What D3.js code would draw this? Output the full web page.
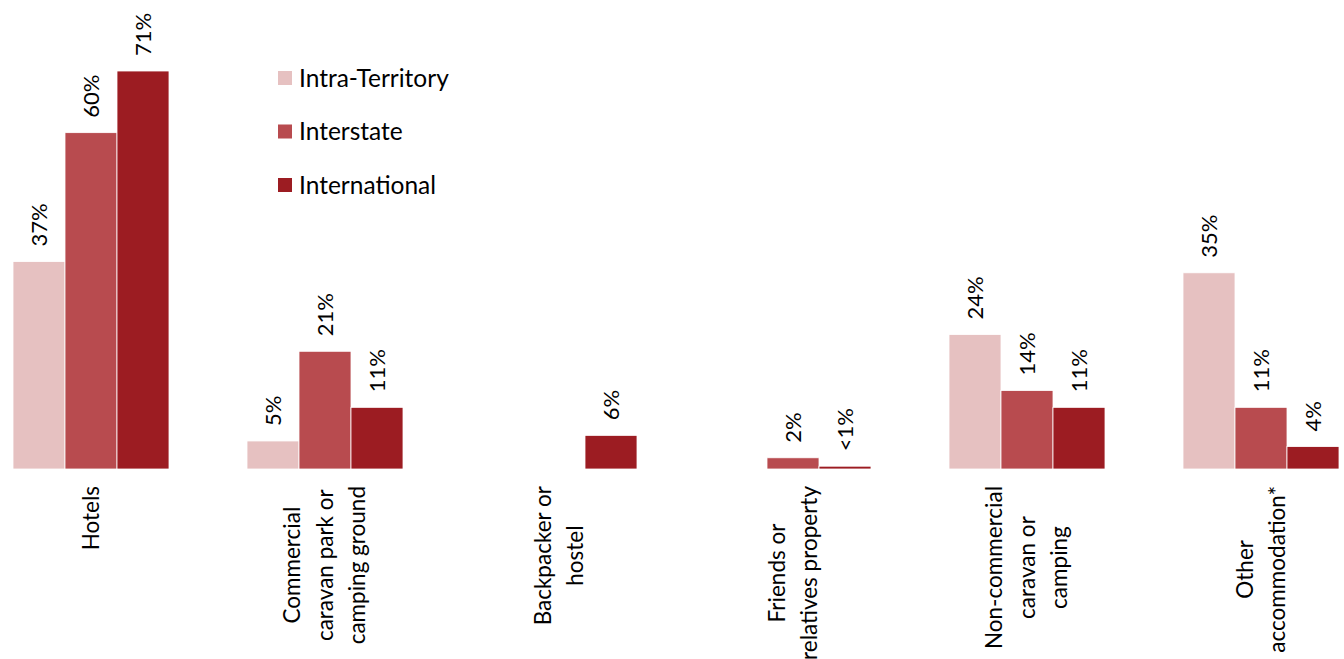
<!DOCTYPE html>
<html>
<head>
<meta charset="utf-8">
<script src="https://cdn.jsdelivr.net/npm/d3@7"></script>
<style>
  body { margin: 0; background: #fff; }
  text { font-family: Lato, "Liberation Sans", sans-serif; fill: #000; }
</style>
</head>
<body>
<svg id="chart" width="1344" height="659"></svg>
<script>
const svg = d3.select("#chart");
const width = +svg.attr("width");
const height = +svg.attr("height");

// data
const categories = ["Hotels", "Commercial", "Backpacker", "Friends", "NonCommercial", "Other"];
const categoryLines = [
    ["Hotels"],
    ["Commercial", "caravan park or", "camping ground"],
    ["Backpacker or", "hostel"],
    ["Friends or", "relatives property"],
    ["Non-commercial", "caravan or", "camping"],
    ["Other", "accommodation*"]
];
const series = ["Intra-Territory", "Interstate", "International"];
const intraTerritory = [37, 5, null, null, 24, 35];
const interstate = [60, 21, null, 2, 14, 11];
const international = [71, 11, 6, 0.5, 11, 4];
const seriesValues = [intraTerritory, interstate, international];
const colors = ["#E6C1C1", "#B84B4F", "#9C1C22"];

const fontSize = 22;
const baseline = 469;

const rows = categories.map((c, i) => ({
    key: c,
    lines: categoryLines[i],
    values: series.map((s, j) => ({series: s, idx: j, value: seriesValues[j][i]}))
}));

const x0 = d3.scaleBand()
    .domain(categories)
    .range([-26, 1378])
    .paddingInner(1 / 3)
    .paddingOuter(1 / 6);

const x1 = d3.scaleBand()
    .domain(series)
    .range([0, x0.bandwidth()]);

const y = d3.scaleLinear()
    .domain([0, 80])
    .range([baseline, baseline - 80 * 398 / 71]);

const color = d3.scaleOrdinal().domain(series).range(colors);

const groups = svg.selectAll("g.group")
    .data(rows)
    .enter()
    .append("g")
    .attr("class", "group")
    .attr("transform", d => "translate(" + x0(d.key) + ",0)");

// bars
groups.selectAll("rect")
    .data(d => d.values.filter(v => v.value != null))
    .enter()
    .append("rect")
    .attr("x", d => x1(d.series))
    .attr("y", d => y(d.value))
    .attr("width", x1.bandwidth())
    .attr("height", d => baseline - y(d.value))
    .attr("fill", d => color(d.series))
    .attr("stroke", "#fff")
    .attr("stroke-width", 0.8);

// value labels
groups.selectAll("text.value")
    .data(d => d.values.filter(v => v.value != null))
    .enter()
    .append("text")
    .attr("class", "value")
    .attr("transform", d => "translate(" + (x1(d.series) + x1.bandwidth() / 2) + "," + (y(d.value) - 15) + ") rotate(-90)")
    .attr("dy", "0.35em")
    .style("font-size", fontSize + "px")
    .text(d => d.value < 1 ? "<1%" : d.value + "%");

// category labels
const lineHeight = 32.5;
groups.each(function(d) {
    const g = d3.select(this);
    const cx = x0.bandwidth() / 2;
    const t = g.append("text")
        .attr("class", "cat")
        .attr("text-anchor", "middle")
        .style("font-size", "22.5px");
    const n = d.lines.length;
    d.lines.forEach((line, i) => {
        t.append("tspan")
            .attr("x", 0)
            .attr("y", (i - (n - 1) / 2) * lineHeight)
            .attr("dy", "0.35em")
            .text(line);
    });
    let maxW = 0;
    t.selectAll("tspan").each(function() {
        maxW = Math.max(maxW, this.getComputedTextLength());
    });
    t.attr("transform", "translate(" + cx + "," + (486 + maxW / 2) + ") rotate(-90)");
});

// legend
const legend = svg.append("g")
    .attr("transform", "translate(278,78)");

const item = legend.selectAll("g")
    .data(series)
    .enter()
    .append("g")
    .attr("transform", (d, i) => "translate(0," + i * 53.5 + ")");

item.append("rect")
    .attr("x", 0)
    .attr("y", -7)
    .attr("width", 14)
    .attr("height", 14)
    .attr("fill", d => color(d));

item.append("text")
    .attr("x", 21)
    .attr("dy", "0.35em")
    .style("font-size", "24.5px")
    .text(d => d);
</script>
</body>
</html>
